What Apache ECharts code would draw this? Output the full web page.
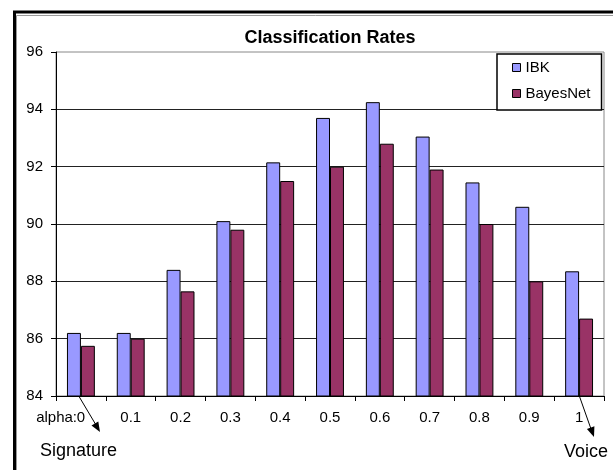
<!DOCTYPE html>
<html>
<head>
<meta charset="utf-8">
<title>Classification Rates</title>
<script src="https://cdn.jsdelivr.net/npm/echarts@6/dist/echarts.min.js"></script>
<style>
  html, body { margin: 0; padding: 0; background: #fff; }
  #chart { width: 613px; height: 470px; }
</style>
</head>
<body>
<div id="chart"></div>
<script>
// 数据
const alphaLabels = ['0', '0.1', '0.2', '0.3', '0.4', '0.5', '0.6', '0.7', '0.8', '0.9', '1'];
const ibkRates = [86.2, 86.2, 88.4, 90.1, 92.15, 93.7, 94.25, 93.05, 91.45, 90.6, 88.35];
const bayesNetRates = [85.75, 86.0, 87.65, 89.8, 91.5, 92.0, 92.8, 91.9, 90.0, 88.0, 86.7];

const font = 'Arial, "Liberation Sans", sans-serif';

const chart = echarts.init(document.getElementById('chart'));

const option = {
  backgroundColor: '#fff',
  animation: false,
  title: {
    text: 'Classification Rates',
    left: 330,
    top: 29,
    padding: 0,
    textAlign: 'center',
    textStyle: { fontFamily: font, fontSize: 18, fontWeight: 'bold', color: '#000' }
  },
  legend: {
    orient: 'vertical',
    left: 497,
    top: 54,
    padding: [6, 11, 9, 15],
    itemGap: 11,
    itemWidth: 8,
    itemHeight: 8,
    icon: 'rect',
    backgroundColor: '#fff',
    borderColor: '#000',
    borderWidth: 1.5,
    z: 10,
    itemStyle: { borderColor: '#000', borderWidth: 1 },
    textStyle: { fontFamily: font, fontSize: 15, color: '#000' },
    data: ['IBK', 'BayesNet']
  },
  grid: {
    left: 56,
    right: 9,
    top: 52,
    bottom: 74,
    show: true,
    borderColor: '#888',
    borderWidth: 1
  },
  xAxis: {
    type: 'category',
    data: alphaLabels,
    axisLine: { lineStyle: { color: '#000', width: 1 } },
    axisTick: { show: true, length: 5, lineStyle: { color: '#000' } },
    axisLabel: { margin: 14, fontFamily: font, fontSize: 15, color: '#000' }
  },
  yAxis: {
    type: 'value',
    min: 84,
    max: 96,
    interval: 2,
    axisLine: { show: true, lineStyle: { color: '#000', width: 1 } },
    axisTick: { show: true, length: 5, lineStyle: { color: '#000' } },
    axisLabel: { margin: 13, fontFamily: font, fontSize: 15, color: '#000' },
    splitLine: { show: true, showMaxLine: false, lineStyle: { color: '#222', width: 1.2 } }
  },
  series: [
    {
      name: 'IBK',
      type: 'bar',
      data: ibkRates,
      barGap: '0%',
      barCategoryGap: '44%',
      itemStyle: { color: '#9999ff', borderColor: '#000', borderWidth: 1 }
    },
    {
      name: 'BayesNet',
      type: 'bar',
      data: bayesNetRates,
      barGap: '0%',
      barCategoryGap: '44%',
      itemStyle: { color: '#993366', borderColor: '#000', borderWidth: 1 }
    }
  ],
  graphic: [
    // 外框
    { type: 'rect', shape: { x: 14.5, y: 12, width: 700, height: 600 }, style: { fill: null, stroke: '#000', lineWidth: 3 }, silent: true },
    { type: 'rect', shape: { x: 16.5, y: 15.5, width: 700, height: 600 }, style: { fill: null, stroke: '#999', lineWidth: 1 }, silent: true },
    // 注释
    { type: 'text', x: 77, y: 418, style: { text: 'alpha:', fontFamily: font, fontSize: 15, fill: '#000', align: 'right', verticalAlign: 'middle' } },
    { type: 'line', shape: { x1: 74, y1: 388, x2: 96, y2: 425 }, style: { stroke: '#000', lineWidth: 1 } },
    { type: 'polygon', shape: { points: [[100, 432], [91.5, 425.4], [98.3, 421.4]] }, style: { fill: '#000' } },
    { type: 'text', x: 40, y: 451, style: { text: 'Signature', fontFamily: font, fontSize: 18, fill: '#000', verticalAlign: 'middle' } },
    { type: 'line', shape: { x1: 579, y1: 395, x2: 591, y2: 429 }, style: { stroke: '#000', lineWidth: 1 } },
    { type: 'polygon', shape: { points: [[594, 437], [586.9, 428.9], [594.4, 426.2]] }, style: { fill: '#000' } },
    { type: 'text', x: 608, y: 452, style: { text: 'Voice', fontFamily: font, fontSize: 18, fill: '#000', align: 'right', verticalAlign: 'middle' } }
  ]
};

chart.setOption(option);

// 屏幕适配
window.addEventListener('resize', () => chart.resize());
</script>
</body>
</html>
